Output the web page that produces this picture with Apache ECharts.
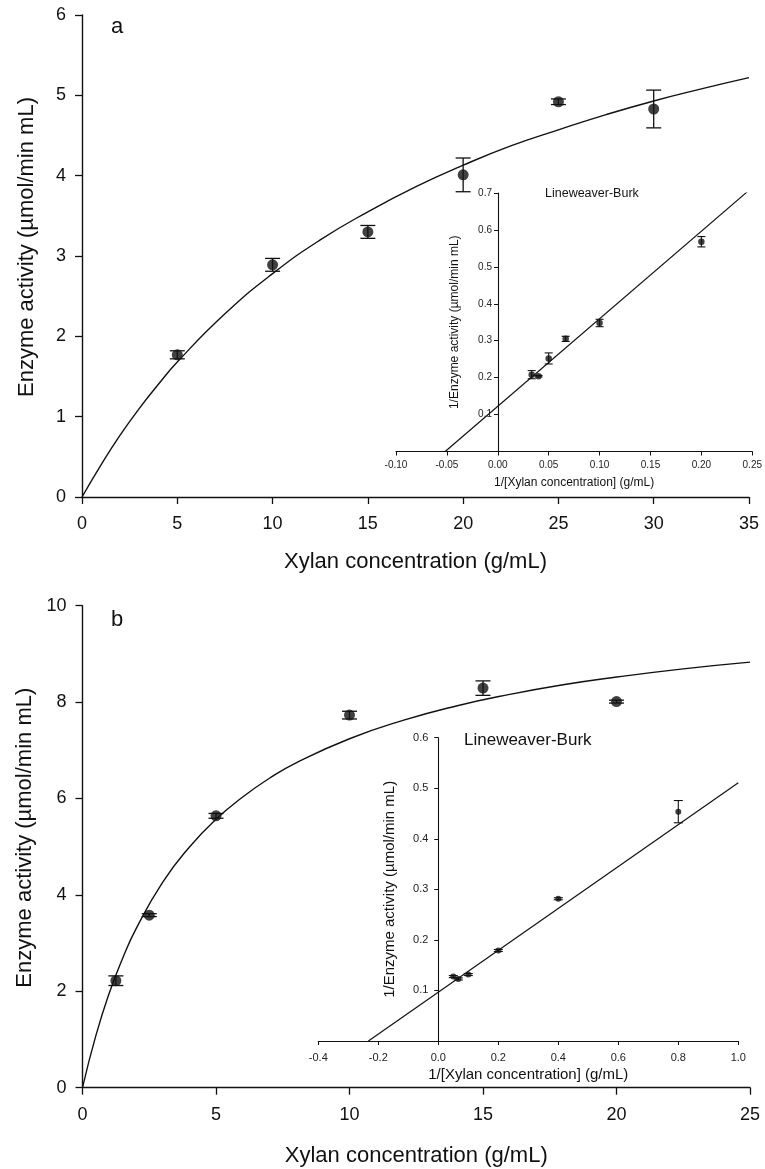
<!DOCTYPE html>
<html>
<head>
<meta charset="utf-8">
<script src="https://cdn.jsdelivr.net/npm/echarts@6/dist/echarts.min.js"></script>
<style>html,body{margin:0;padding:0;background:#fff}#c{width:765px;height:1169px}</style>
</head>
<body>
<div id="c"></div>
<script>
// ---- Panel a: main Michaelis-Menten data ----
var aX = [5, 10, 15, 20, 25, 30];
var aY = [1.77, 2.89, 3.30, 4.01, 4.92, 4.83];
var aErr = [0.05, 0.08, 0.08, 0.21, 0.035, 0.235];
// fitted curve
var aCurveX = [0, 1, 2, 3, 4, 5, 7.5, 10, 12.5, 15, 17.5, 20, 22.5, 25, 27.5, 30, 32.5, 35];
var aCurveY = [0, 0.40, 0.77, 1.10, 1.40, 1.68, 2.28, 2.78, 3.20, 3.55, 3.86, 4.13, 4.37, 4.57, 4.76, 4.93, 5.08, 5.22];
// ---- Panel a: Lineweaver-Burk inset ----
var aLbX = [0.0333, 0.04, 0.05, 0.0667, 0.1, 0.2];
var aLbY = [0.208, 0.204, 0.252, 0.305, 0.348, 0.568];
var aLbErr = [0.011, 0.002, 0.015, 0.007, 0.010, 0.014];
var aLineX = [-0.0517, 0.245];
var aLineY = [0, 0.703];

// ---- Panel b: main data ----
var bX = [1.25, 2.5, 5, 10, 15, 20];
var bY = [2.22, 3.58, 5.64, 7.73, 8.29, 8.01];
var bErr = [0.10, 0.03, 0.05, 0.08, 0.15, 0.03];
var bCurveX = [0, 0.5, 1, 1.5, 2, 3, 4, 5, 6, 7, 8, 10, 12, 14, 16, 18, 20, 22.5, 25];
var bCurveY = [0, 1.08, 1.96, 2.68, 3.29, 4.26, 4.99, 5.57, 6.03, 6.42, 6.74, 7.24, 7.62, 7.92, 8.16, 8.36, 8.52, 8.69, 8.83];
// ---- Panel b: Lineweaver-Burk inset ----
var bLbX = [0.05, 0.0667, 0.1, 0.2, 0.4, 0.8];
var bLbY = [0.1274, 0.1228, 0.1314, 0.179, 0.2814, 0.4537];
var bLbErr = [0.002, 0.002, 0.002, 0.002, 0.002, 0.022];
var bLineX = [-0.233, 1.0];
var bLineY = [0, 0.511];

var FONT = "'Liberation Sans', Arial, sans-serif";
var INK = '#111';

function zip2(xs, ys) { return xs.map(function (x, i) { return [x, ys[i]]; }); }
function zip3(xs, ys, es) { return xs.map(function (x, i) { return [x, ys[i], es[i]]; }); }

function errSeries(idx, data, cap, lw) {
  return {
    type: 'custom', xAxisIndex: idx, yAxisIndex: idx, data: data, z: 3,
    encode: { x: 0, y: 1 },
    renderItem: function (params, api) {
      var x = api.value(0), y = api.value(1), e = api.value(2);
      var t = api.coord([x, y + e]), b = api.coord([x, y - e]);
      var st = { stroke: INK, lineWidth: lw };
      return { type: 'group', children: [
        { type: 'line', shape: { x1: t[0], y1: t[1], x2: b[0], y2: b[1] }, style: st },
        { type: 'line', shape: { x1: t[0] - cap, y1: t[1], x2: t[0] + cap, y2: t[1] }, style: st },
        { type: 'line', shape: { x1: b[0] - cap, y1: b[1], x2: b[0] + cap, y2: b[1] }, style: st }
      ] };
    }
  };
}

function mainX(idx, min, max, step, gap) {
  return {
    type: 'value', gridIndex: idx, min: min, max: max, interval: step,
    name: 'Xylan concentration (g/mL)', nameLocation: 'middle', nameGap: gap,
    nameTextStyle: { fontSize: 22, color: INK, fontFamily: FONT },
    axisLine: { onZero: false, lineStyle: { color: INK, width: 1.4 } },
    axisTick: { show: true, length: 7, lineStyle: { color: INK, width: 1.3 } },
    axisLabel: { fontSize: 18, color: INK, fontFamily: FONT, margin: 18 },
    splitLine: { show: false }
  };
}
function mainY(idx, min, max, step) {
  return {
    type: 'value', gridIndex: idx, min: min, max: max, interval: step,
    name: 'Enzyme activity (µmol/min mL)', nameLocation: 'middle', nameGap: 44,
    nameTextStyle: { fontSize: 22, color: INK, fontFamily: FONT, padding: [0, 0, 0, 18] },
    axisLine: { show: true, onZero: false, lineStyle: { color: INK, width: 1.4 } },
    axisTick: { show: true, length: 7, lineStyle: { color: INK, width: 1.3 } },
    axisLabel: { fontSize: 18, color: INK, fontFamily: FONT, margin: 16 },
    splitLine: { show: false }
  };
}
function insetX(idx, min, max, step, fs, tfs, gap, margin, dec) {
  return {
    type: 'value', gridIndex: idx, min: min, max: max, interval: step,
    name: '1/[Xylan concentration] (g/mL)', nameLocation: 'middle', nameGap: gap,
    nameTextStyle: { fontSize: tfs, color: INK, fontFamily: FONT },
    axisLine: { onZero: false, lineStyle: { color: INK, width: 1.1 } },
    axisTick: { show: true, length: 4, lineStyle: { color: INK, width: 1 } },
    axisLabel: { fontSize: fs, color: '#222', fontFamily: FONT, margin: margin,
      formatter: function (v) { return v.toFixed(dec); } },
    splitLine: { show: false }
  };
}
// hidden y scale for the inset data grid
function hiddenY(idx, min, max) {
  return { type: 'value', gridIndex: idx, min: min, max: max, show: false, splitLine: { show: false } };
}
function hiddenX(idx) {
  return { type: 'value', gridIndex: idx, min: 0, max: 1, show: false, splitLine: { show: false } };
}
// visible inset y-axis placed on its own grid starting at x = 0 of the inset
function insetY(idx, min, max, step, fs, tfs, gap, margin) {
  return {
    type: 'value', gridIndex: idx, min: min, max: max, interval: step,
    name: '1/Enzyme activity (µmol/min mL)', nameLocation: 'middle', nameGap: gap,
    nameTextStyle: { fontSize: tfs, color: INK, fontFamily: FONT },
    axisLine: { show: true, onZero: false, lineStyle: { color: INK, width: 1.1 } },
    axisTick: { show: true, length: 4, lineStyle: { color: INK, width: 1 } },
    axisLabel: { fontSize: fs, color: '#222', fontFamily: FONT, margin: margin, showMinLabel: false,
      formatter: function (v) { return v.toFixed(1); } },
    splitLine: { show: false }
  };
}

// inset geometry (x-axis extents in px) to locate the x = 0 crossing
var insetA = { left: 396, right: 12, min: -0.10, max: 0.25 };
var insetB = { left: 318.3, right: 26.7, min: -0.4, max: 1.0 };
function zeroLeft(g) {
  var w = 765 - g.right - g.left;
  return g.left + (0 - g.min) / (g.max - g.min) * w;
}

var chart = echarts.init(document.getElementById('c'), null, { renderer: 'canvas' });
chart.setOption({
  backgroundColor: '#fff',
  animation: false,
  title: [
    { text: 'a', left: 106, top: 11, textStyle: { fontSize: 22, fontWeight: 'normal', color: INK, fontFamily: FONT } },
    { text: 'b', left: 106, top: 604, textStyle: { fontSize: 22, fontWeight: 'normal', color: INK, fontFamily: FONT } },
    { text: 'Lineweaver-Burk', left: 540, top: 182, textStyle: { fontSize: 12.5, fontWeight: 'normal', color: INK, fontFamily: FONT } },
    { text: 'Lineweaver-Burk', left: 459, top: 727, textStyle: { fontSize: 17, fontWeight: 'normal', color: INK, fontFamily: FONT } }
  ],
  grid: [
    { left: 82, right: 16, top: 15, height: 482 },
    { left: insetA.left, right: insetA.right, top: 193, height: 258.5 },
    { left: 82.5, right: 15, top: 605.7, height: 482 },
    { left: insetB.left, right: insetB.right, top: 737.7, height: 303.3 },
    { left: zeroLeft(insetA), right: insetA.right, top: 193, height: 258.5 },
    { left: zeroLeft(insetB), right: insetB.right, top: 737.7, height: 303.3 }
  ],
  xAxis: [
    mainX(0, 0, 35, 5, 54),
    insetX(1, insetA.min, insetA.max, 0.05, 10, 12, 25, 9, 2),
    mainX(2, 0, 25, 5, 57),
    insetX(3, insetB.min, insetB.max, 0.2, 11, 15, 26, 11, 1),
    hiddenX(4),
    hiddenX(5)
  ],
  yAxis: [
    mainY(0, 0, 6, 1),
    hiddenY(1, 0, 0.7),
    mainY(2, 0, 10, 2),
    hiddenY(3, 0, 0.6),
    insetY(4, 0, 0.7, 0.1, 10, 12, 37, 6),
    insetY(5, 0, 0.6, 0.1, 11, 15, 41, 10)
  ],
  series: [
    { type: 'line', xAxisIndex: 0, yAxisIndex: 0, data: zip2(aCurveX, aCurveY), smooth: true, symbol: 'none',
      lineStyle: { color: INK, width: 1.4 }, z: 2 },
    errSeries(0, zip3(aX, aY, aErr), 7.5, 1.3),
    { type: 'scatter', xAxisIndex: 0, yAxisIndex: 0, data: zip2(aX, aY), symbolSize: 11, itemStyle: { color: INK }, z: 4 },

    { type: 'line', xAxisIndex: 1, yAxisIndex: 1, data: zip2(aLineX, aLineY), symbol: 'none',
      lineStyle: { color: INK, width: 1.2 }, z: 2 },
    errSeries(1, zip3(aLbX, aLbY, aLbErr), 4, 1.1),
    { type: 'scatter', xAxisIndex: 1, yAxisIndex: 1, data: zip2(aLbX, aLbY), symbolSize: 6.5, itemStyle: { color: INK }, z: 4 },

    { type: 'line', xAxisIndex: 2, yAxisIndex: 2, data: zip2(bCurveX, bCurveY), smooth: true, symbol: 'none',
      lineStyle: { color: INK, width: 1.4 }, z: 2 },
    errSeries(2, zip3(bX, bY, bErr), 7.5, 1.3),
    { type: 'scatter', xAxisIndex: 2, yAxisIndex: 2, data: zip2(bX, bY), symbolSize: 11, itemStyle: { color: INK }, z: 4 },

    { type: 'line', xAxisIndex: 3, yAxisIndex: 3, data: zip2(bLineX, bLineY), symbol: 'none',
      lineStyle: { color: INK, width: 1.2 }, z: 2 },
    errSeries(3, zip3(bLbX, bLbY, bLbErr), 4.5, 1.1),
    { type: 'scatter', xAxisIndex: 3, yAxisIndex: 3, data: zip2(bLbX, bLbY), symbolSize: 6, itemStyle: { color: INK }, z: 4 }
  ]
});
</script>
</body>
</html>
